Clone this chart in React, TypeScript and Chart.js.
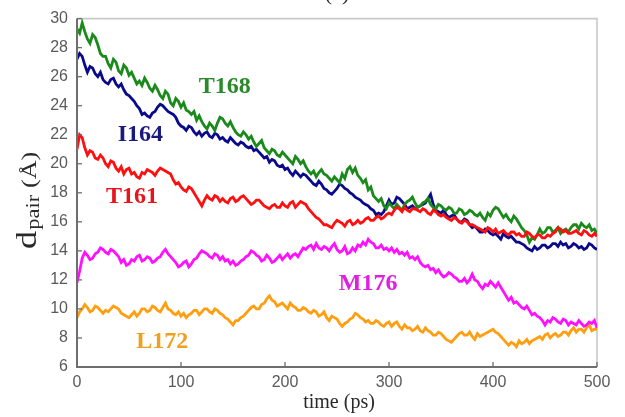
import { useEffect, useRef } from "react";
import { Chart, registerables } from "chart.js";

Chart.register(...registerables);

// time step between samples (ps)
const TIME_STEP = 2.5;

const T168 = [
  29.3, 29.0, 29.7, 29.1, 28.6, 28.3, 28.9, 28.7, 28.2, 27.6,
  27.4, 27.4, 26.9, 26.6, 27.2, 27.0, 26.4, 26.2, 26.8, 26.6,
  26.1, 26.3, 25.9, 25.5, 25.7, 25.4, 25.9, 25.6, 25.2, 25.0,
  25.4, 25.1, 24.7, 24.5, 25.0, 24.8, 24.2, 24.0, 24.5, 24.3,
  23.9, 24.2, 23.7, 23.6, 23.4, 23.6, 23.0, 23.3, 22.9, 22.6,
  22.4, 22.8, 22.6, 22.3, 22.8, 23.2, 23.1, 22.8, 22.6, 22.9,
  22.5, 22.2, 22.0, 21.9, 22.2, 22.0, 21.7, 21.9, 21.5, 21.2,
  21.4, 21.6, 21.1, 20.9, 20.7, 21.0, 20.9, 20.6, 20.5, 20.8,
  20.6, 20.4, 20.2, 20.0, 20.5, 20.3, 20.0, 20.2, 19.8, 19.5,
  19.3, 19.5, 19.1, 19.4, 19.6, 19.3, 19.2, 19.0, 18.8, 19.1,
  18.9, 18.7, 19.3, 19.0, 19.6, 19.8, 19.4, 19.7, 19.2, 19.0,
  18.7, 18.9, 18.2, 18.4, 17.8, 17.6, 17.4, 17.6, 17.1, 16.9,
  17.3, 17.1, 16.9, 17.2, 17.0, 16.8, 17.2, 17.4, 17.5, 17.7,
  17.3, 17.0, 17.1, 17.3, 17.4, 17.6, 17.2, 17.0, 16.9, 17.2,
  17.1, 16.9, 16.8, 17.0, 16.9, 16.6, 16.6, 16.9, 16.8, 16.5,
  16.6, 16.8, 16.7, 16.5, 16.4, 16.6, 16.3, 16.1, 16.6, 16.4,
  16.8, 17.0, 16.9, 16.6, 16.3, 16.5, 16.2, 16.0, 16.4, 16.2,
  15.9, 15.6, 15.4, 15.1, 14.6, 14.9, 14.8, 15.1, 15.5, 15.2,
  15.3, 15.6, 15.6, 15.3, 15.4, 15.6, 15.2, 15.4, 15.5, 15.3,
  15.6, 15.8, 15.8, 15.5, 15.9, 15.7, 15.6, 15.8, 15.4, 15.5,
  15.2,
];

const I164 = [
  27.2, 27.6, 27.4, 26.8, 26.3, 26.7, 26.6, 26.2, 26.0, 26.3,
  25.8, 25.6, 25.5, 25.8, 25.9, 25.5, 25.3, 25.5, 25.1, 24.8,
  24.7, 24.5, 24.3, 24.0, 23.8, 23.4, 23.5, 23.3, 23.2, 23.5,
  23.6, 23.9, 24.1, 24.0, 23.8, 23.6, 23.5, 23.4, 23.2, 22.8,
  22.6, 22.5, 22.3, 22.6, 22.5, 22.2, 22.0, 22.2, 21.9, 22.1,
  22.2, 21.9, 21.8, 22.1, 22.0, 21.7, 21.8, 21.6, 21.5, 21.8,
  21.6, 21.4, 21.3, 21.5, 21.4, 21.2, 21.1, 21.2, 20.9, 21.0,
  20.8, 20.6, 20.4, 20.5, 20.1, 20.3, 20.2, 19.9, 19.8, 19.9,
  19.6, 19.7, 19.4, 19.2, 19.5, 19.3, 19.1, 19.3, 19.2, 19.0,
  18.8, 18.6, 18.5, 18.8, 18.6, 18.3, 18.2, 18.0, 17.9, 18.1,
  18.3, 18.6, 18.5, 18.3, 18.2, 18.0, 17.9, 17.7, 17.6, 17.5,
  17.3, 17.2, 17.1, 16.9, 16.8, 16.5, 16.6, 16.5, 16.7, 17.1,
  17.5, 17.2, 17.3, 17.7, 17.6, 17.4, 17.2, 16.9, 17.0, 17.1,
  16.9, 17.0, 17.1, 17.2, 17.3, 17.6, 17.9, 17.2, 16.8, 16.7,
  16.6, 16.8, 16.5, 16.3, 16.4, 16.5, 16.2, 16.0, 16.0, 16.2,
  16.1, 15.8, 15.6, 15.7, 15.5, 15.3, 15.3, 15.5, 15.4, 15.2,
  15.1, 15.2, 15.0, 14.8, 15.2, 15.0, 14.9, 15.0, 14.8, 14.6,
  14.6, 14.5, 14.4, 14.2, 14.1, 14.0, 14.3, 14.1, 14.2, 14.4,
  14.4, 14.2, 14.3, 14.5, 14.5, 14.3, 14.6, 14.4, 14.5, 14.2,
  14.3, 14.5, 14.4, 14.2, 14.3, 14.1, 14.2, 14.5, 14.4, 14.2,
  14.1,
];

const T161 = [
  21.0, 22.0, 21.8, 21.1, 20.6, 20.9, 20.8, 20.4, 20.3, 20.6,
  20.4, 20.0, 19.8, 20.2, 20.1, 19.7, 19.5, 19.8, 19.3, 19.6,
  19.7, 19.3, 19.4, 19.1, 19.0, 19.4, 19.3, 19.6, 19.5, 19.4,
  19.2, 19.5, 19.7, 19.6, 19.5, 19.4, 19.3, 18.9, 18.6, 18.7,
  18.4, 18.2, 18.1, 18.4, 18.3, 18.0, 17.7, 17.4, 17.1, 17.5,
  17.8, 17.6, 17.5, 17.8, 17.7, 17.4, 17.6, 17.4, 17.3, 17.6,
  17.7, 17.4, 17.5, 17.7, 17.8, 17.6, 17.4, 17.2, 17.3, 17.5,
  17.5, 17.3, 17.1, 17.0, 16.9, 17.1, 17.2, 17.0, 17.0, 17.3,
  17.1, 17.0, 17.3, 17.4, 17.0, 17.2, 17.4, 17.3, 17.2, 16.9,
  16.7, 16.5, 16.3, 16.2, 16.0, 15.8, 15.8, 15.7, 15.6, 15.9,
  16.1, 16.0, 15.9, 15.7, 16.0, 16.1, 15.8, 15.9, 16.1, 15.9,
  16.0, 16.2, 16.3, 16.1, 16.1, 16.3, 16.4, 16.2, 16.3, 16.5,
  16.6, 16.5, 16.8, 17.0, 16.9, 16.7, 17.0, 16.8, 16.7, 16.9,
  16.9, 16.8, 16.7, 16.9, 16.8, 16.6, 16.5, 16.8, 16.7, 16.5,
  16.4, 16.5, 16.3, 16.2, 16.1, 16.3, 16.2, 16.0, 15.9, 16.1,
  16.0, 15.8, 15.8, 15.7, 15.6, 15.5, 15.4, 15.3, 15.6, 15.5,
  15.3, 15.5, 15.2, 15.3, 15.4, 15.2, 15.1, 15.3, 15.3, 15.1,
  15.2, 15.0, 15.0, 15.3, 15.2, 15.0, 14.9, 15.1, 15.1, 14.9,
  14.9, 15.1, 15.0, 15.2, 15.3, 15.6, 15.5, 15.3, 15.4, 15.2,
  15.2, 15.3, 15.4, 15.2, 15.1, 15.4, 15.3, 15.1, 15.0, 15.2,
  15.0,
];

const M176 = [
  11.8, 12.6, 13.5, 13.9, 13.7, 13.4, 13.5, 13.8, 13.9, 14.2,
  14.1, 13.9, 13.8, 14.1, 14.0, 13.8, 13.6, 13.2, 13.4, 13.0,
  13.1, 13.4, 13.3, 13.6, 13.7, 13.3, 13.4, 13.6, 13.5, 13.2,
  13.3, 13.5, 13.6, 13.9, 14.1, 13.8, 13.6, 13.4, 13.2, 12.9,
  13.0, 13.2, 13.3, 12.9, 13.1, 13.4, 13.5, 13.8, 14.0, 13.9,
  13.8, 13.6, 13.5, 13.8, 13.7, 13.4, 13.6, 13.3, 13.4, 13.1,
  13.3, 13.0, 13.1, 13.3, 13.4, 13.6, 13.7, 14.0, 13.9, 13.7,
  13.6, 13.3, 13.4, 13.7, 13.5, 13.2, 13.3, 13.5, 13.7, 13.4,
  13.6, 13.8, 13.5, 13.7, 13.8, 13.6, 13.9, 14.2, 14.1, 14.3,
  14.4, 14.1, 14.5, 14.2, 14.1, 14.3, 14.2, 14.0, 14.3, 14.5,
  14.1, 13.9, 14.0, 14.3, 13.8, 13.9, 14.2, 14.0, 14.4, 14.3,
  14.6, 14.4, 14.8, 14.6, 14.5, 14.2, 14.2, 14.4, 14.1, 14.2,
  14.0, 14.2, 13.9, 14.1, 13.8, 13.9, 13.7, 13.9, 13.5, 13.6,
  13.4, 13.6, 13.2, 13.0, 12.9, 13.0, 12.7, 12.8, 12.5, 12.7,
  12.4, 12.2, 12.3, 12.5, 12.4, 12.2, 12.1, 11.9, 11.9, 12.1,
  11.8, 12.0, 12.4, 12.0, 11.9, 11.6, 11.4, 11.7, 11.6, 11.9,
  11.7, 11.5, 11.8, 11.5, 11.2, 10.9, 10.6, 10.8, 10.4, 10.5,
  10.3, 10.1, 10.0, 10.2, 9.9, 9.6, 9.7, 9.5, 9.4, 9.2,
  8.9, 9.2, 9.1, 9.4, 9.3, 9.1, 9.0, 9.3, 9.2, 8.9,
  9.1, 9.0, 8.9, 9.2, 9.0, 8.8, 8.9, 9.1, 9.0, 9.2,
  8.7,
];

const L172 = [
  9.4, 9.8, 10.0, 10.3, 10.1, 9.8, 9.9, 10.2, 10.1, 9.9,
  9.7, 9.9, 9.8, 10.0, 10.2, 10.1, 10.0, 9.7, 9.6, 9.5,
  9.4, 9.6, 9.8, 9.5, 9.7, 10.0, 10.0, 9.8, 9.9, 10.2,
  10.1, 9.9, 9.8, 10.1, 10.4, 10.0, 9.9, 9.7, 9.6, 9.8,
  9.5, 9.7, 9.4, 9.6, 9.7, 9.9, 9.9, 9.6, 9.8, 10.0,
  10.0, 9.8, 9.7, 10.0, 9.9, 9.7, 9.6, 9.4, 9.3, 9.1,
  8.9, 9.2, 9.2, 9.4, 9.5, 9.7, 9.9, 10.1, 10.2, 10.0,
  10.0, 10.3, 10.4, 10.7, 10.9, 10.6, 10.5, 10.2, 10.3, 10.4,
  10.2, 10.0, 10.4, 10.2, 10.1, 9.9, 9.9, 10.1, 10.0, 9.8,
  9.7, 9.9, 9.8, 9.5, 9.6, 9.8, 9.4, 9.2, 9.5, 9.4,
  9.3, 9.0, 8.8, 9.0, 9.1, 9.3, 9.4, 9.7, 9.6, 9.4,
  9.3, 9.1, 9.2, 9.0, 9.0, 9.2, 9.1, 8.9, 8.8, 9.0,
  9.1, 8.8, 9.0, 9.1, 8.8, 8.6, 8.9, 8.7, 8.7, 8.5,
  8.6, 8.8, 8.5, 8.4, 8.7, 8.5, 8.4, 8.2, 8.2, 8.4,
  8.3, 8.1, 7.9, 7.8, 7.7, 7.9, 8.1, 8.3, 8.4, 8.2,
  8.2, 8.4, 8.1, 7.9, 8.3, 8.1, 8.2, 8.3, 8.4, 8.5,
  8.6, 8.4, 8.3, 8.1, 7.9, 7.7, 7.5, 7.7, 7.6, 7.4,
  7.8, 7.6, 7.7, 7.9, 7.6, 7.8, 7.9, 8.0, 8.1, 7.9,
  8.2, 8.3, 8.0, 8.2, 8.3, 8.1, 8.2, 8.4, 8.4, 8.2,
  8.5, 8.7, 8.4, 8.6, 8.6, 8.4, 8.7, 8.9, 8.5, 8.6,
  8.6,
];

const SERIES_NAMES = ["T161", "T168", "I164", "M176", "L172"];
const SERIES_VALUES = [T161, T168, I164, M176, L172];
const LINE_COLORS = ["#ff1010", "#1a8a1a", "#0a0a8a", "#ff10ff", "#ff9e10"];
const TEXT_COLORS = ["#e8141c", "#2a8a2a", "#1a1a7e", "#e020e0", "#f0a020"];
// label anchors in data coordinates [time, value]
const LABEL_T = [53, 142, 61, 280, 82];
const LABEL_V = [17.7, 25.3, 22.0, 11.74, 7.71];

const X_MIN = 0, X_MAX = 500, X_STEP = 100;
const Y_MIN = 6, Y_MAX = 30, Y_STEP = 2;
const X_TITLE = "time (ps)";
const PANEL_TAG = "(a)";

const decor = {
  id: "decor",
  beforeDatasetsDraw(chart: any) {
    const { ctx, chartArea: a } = chart;
    ctx.save();
    ctx.strokeStyle = "#c9c9c9";
    ctx.lineWidth = 1.6;
    ctx.beginPath();
    ctx.moveTo(a.left, a.top);
    ctx.lineTo(a.right, a.top);
    ctx.lineTo(a.right, a.bottom);
    ctx.stroke();
    ctx.restore();
  },
  afterDraw(chart: any) {
    const { ctx, chartArea: a, scales } = chart;
    const xs = scales.x, ys = scales.y;
    ctx.save();
    ctx.strokeStyle = "#6e6e6e";
    ctx.lineWidth = 2;
    ctx.beginPath();
    ctx.moveTo(a.left, a.top);
    ctx.lineTo(a.left, a.bottom);
    ctx.lineTo(a.right, a.bottom);
    ctx.stroke();
    ctx.lineWidth = 1.3;
    ys.ticks.forEach((t: any) => {
      const py = ys.getPixelForValue(t.value);
      ctx.beginPath();
      ctx.moveTo(a.left, py);
      ctx.lineTo(a.left + 5, py);
      ctx.stroke();
    });
    xs.ticks.forEach((t: any) => {
      const px = xs.getPixelForValue(t.value);
      ctx.beginPath();
      ctx.moveTo(px, a.bottom);
      ctx.lineTo(px, a.bottom - 5);
      ctx.stroke();
    });
    ctx.font = "bold 24px 'Liberation Serif', 'Times New Roman', serif";
    ctx.textAlign = "center";
    ctx.textBaseline = "middle";
    SERIES_NAMES.forEach((n, i) => {
      ctx.fillStyle = TEXT_COLORS[i];
      ctx.fillText(n, xs.getPixelForValue(LABEL_T[i]), ys.getPixelForValue(LABEL_V[i]));
    });
    ctx.fillStyle = "#2a2a2a";
    ctx.font = "20px 'Liberation Serif', serif";
    ctx.textBaseline = "alphabetic";
    ctx.fillText(X_TITLE, (a.left + a.right) / 2 + 2, 408);
    ctx.font = "22px 'Liberation Serif', serif";
    ctx.fillText(PANEL_TAG, (a.left + a.right) / 2, 0);
    // y title: d_pair (Å), rotated
    ctx.translate(36, 249);
    ctx.rotate(-Math.PI / 2);
    ctx.scale(1.25, 1);
    ctx.textAlign = "left";
    ctx.font = "29px 'Liberation Serif', serif";
    ctx.fillText("d", 0, 0);
    let w = ctx.measureText("d").width;
    ctx.font = "18px 'Liberation Serif', serif";
    ctx.fillText("pair", w + 1, 3);
    w += 1 + ctx.measureText("pair").width;
    ctx.font = "21px 'Liberation Serif', serif";
    ctx.fillText(" (Å)", w, 0);
    ctx.restore();
  },
};

export default function App() {
  const ref = useRef<HTMLCanvasElement>(null);
  useEffect(() => {
    document.body.style.margin = "0";
    const datasets = SERIES_VALUES.map((vals, i) => ({
      label: SERIES_NAMES[i],
      data: vals.map((v, k) => ({ x: k * TIME_STEP, y: v })),
      borderColor: LINE_COLORS[i],
      backgroundColor: LINE_COLORS[i],
      borderWidth: 2.8,
      pointRadius: 0,
      tension: 0,
      order: i,
    }));
    const chart = new Chart(ref.current!, {
      type: "line",
      data: { datasets },
      options: {
        animation: false,
        responsive: false,
        maintainAspectRatio: false,
        layout: { padding: { top: 16, right: 28, left: 0, bottom: 0 } },
        plugins: { legend: { display: false }, tooltip: { enabled: false }, title: { display: false } },
        scales: {
          x: {
            type: "linear",
            min: X_MIN,
            max: X_MAX,
            grid: { display: false, drawTicks: false },
            border: { display: false },
            ticks: {
              stepSize: X_STEP,
              color: "#5a5a5a",
              padding: 6,
              maxRotation: 0,
              font: { size: 16, family: "'Liberation Sans', Arial, sans-serif" },
            },
            afterFit: (s: any) => { s.height = 50; },
          },
          y: {
            min: Y_MIN,
            max: Y_MAX,
            grid: { display: false, drawTicks: false },
            border: { display: false },
            ticks: {
              stepSize: Y_STEP,
              color: "#5a5a5a",
              padding: 9,
              font: { size: 16, family: "'Liberation Sans', Arial, sans-serif" },
            },
            afterFit: (s: any) => { s.width = 77; },
          },
        },
      },
      plugins: [decor],
    });
    return () => chart.destroy();
  }, []);
  return (
    <div style={{ position: "absolute", left: 0, top: 0, width: 625, height: 417, background: "#fff" }}>
      <canvas ref={ref} width={625} height={417} style={{ display: "block" }} />
    </div>
  );
}
